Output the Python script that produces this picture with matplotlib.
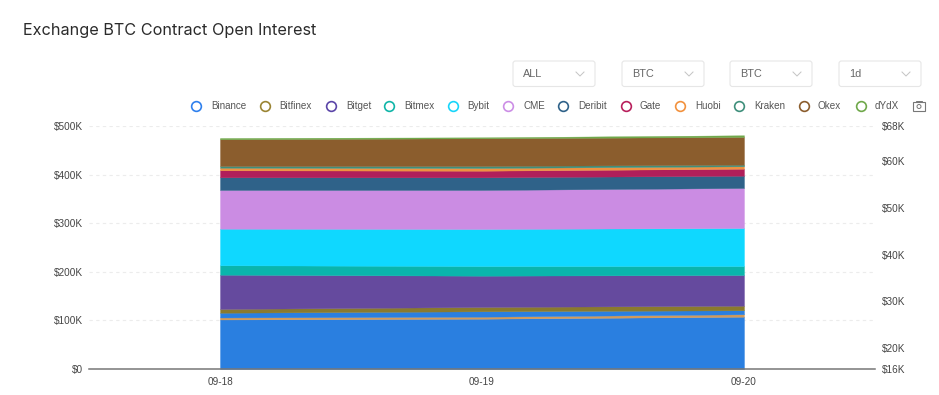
import matplotlib
matplotlib.use('Agg')
import matplotlib.pyplot as plt
from matplotlib.patches import FancyBboxPatch, Rectangle, Circle

days = ['09-18', '09-19', '09-20']

# open interest per exchange, $K
binance = [101.9, 103.5, 107.6]
seam = [4.1, 4.1, 5.0]
binance_top = [9.8, 11.1, 8.2]
bitfinex = [7.7, 8.9, 9.4]
bitget = [70.5, 64.4, 63.2]
bitmex = [19.4, 19.9, 18.5]
bybit = [75.3, 76.2, 78.2]
cme = [79.6, 80.2, 82.3]
deribit = [26.2, 26.1, 25.3]
gate = [14.3, 13.6, 14.4]
huobi = [5.4, 5.6, 5.0]
kraken = [3.5, 4.1, 3.3]
okex = [54.9, 57.0, 57.0]
dydx = [2.7, 2.0, 3.5]

layers = [binance, seam, binance_top, bitfinex, bitget, bitmex, bybit, cme,
          deribit, gate, huobi, kraken, okex, dydx]
layer_colors = ['#2a7fe0', '#d09a5c', '#2a7fe0', '#8a7a2e', '#654a9e', '#0ab5ac',
                '#0fd8ff', '#cb8ce3', '#2f6289', '#b01f5a', '#ee9140', '#3f8f7b',
                '#8b5d2d', '#6fa84a']

left_ticks = [0, 100, 200, 300, 400, 500]
left_labels = ['$0', '$100K', '$200K', '$300K', '$400K', '$500K']
right_ticks = [16, 20.5, 30.5, 40.5, 50.5, 60.5, 68]
right_labels = ['$16K', '$20K', '$30K', '$40K', '$50K', '$60K', '$68K']

legend_names = ['Binance', 'Bitfinex', 'Bitget', 'Bitmex', 'Bybit', 'CME',
                'Deribit', 'Gate', 'Huobi', 'Kraken', 'Okex', 'dYdX']
legend_colors = ['#2f80ed', '#9a8433', '#5b45a8', '#10b5a8', '#18d5fa', '#cc8ee6',
                 '#2f6289', '#b81f5c', '#f2913d', '#3f8f7b', '#8b5d2d', '#6fa84a']
legend_marks = [196, 265, 331, 389, 453, 508, 563, 626, 680, 739, 803.5, 861]
legend_texts = [211, 279, 346, 404, 467.5, 523, 578, 640, 695, 754, 818, 875]

selects = ['ALL', 'BTC', 'BTC', '1d']
select_left = [513, 622, 730, 839]

plt.rcParams['font.family'] = ['Liberation Sans', 'DejaVu Sans']

W, H = 939, 395
fig = plt.figure(figsize=(W / 100, H / 100), dpi=100)
ax = fig.add_axes([89 / W, 1 - 369 / H, (875 - 89) / W, (369 - 126) / H])

x = range(len(days))
polys = ax.stackplot(x, layers, colors=layer_colors, zorder=3)
for p, c in zip(polys, layer_colors):
    p.set_edgecolor(c)
    p.set_linewidth(0.25)
ax.set_xlim(-0.5, 2.5)
ax.set_ylim(0, 500)
ax.set_xticks(list(x), days)
ax.set_yticks(left_ticks, left_labels)
ax.tick_params(axis='both', length=0, labelsize=7.2, labelcolor='#444444')
ax.tick_params(axis='x', pad=6)
ax.tick_params(axis='y', pad=4)
ax.grid(axis='y', color='#ececec', linestyle=(0, (3, 3)), linewidth=0.8, zorder=0)
for s in ['top', 'left', 'right']:
    ax.spines[s].set_visible(False)
ax.spines['bottom'].set_color('#777777')
ax.spines['bottom'].set_linewidth(1.1)
ax.spines['bottom'].set_zorder(4)

ax2 = ax.twinx()
ax2.set_ylim(16, 68)
ax2.set_yticks(right_ticks, right_labels)
ax2.tick_params(axis='y', length=0, labelsize=7.2, labelcolor='#444444', pad=5)
for s in ax2.spines.values():
    s.set_visible(False)

# page furniture above the plot, in pixel coordinates
top = fig.add_axes([0, 0, 1, 1], zorder=5)
top.set_xlim(0, W)
top.set_ylim(H, 0)
top.axis('off')

top.text(23, 30.5, 'Exchange BTC Contract Open Interest', fontsize=11.7, color='#2b2b2b',
         family=['Inter', 'DejaVu Sans'], va='center')

for name, left in zip(selects, select_left):
    top.add_patch(FancyBboxPatch((left, 61), 82, 25.5, boxstyle='round,pad=0,rounding_size=2.5',
                                 fc='white', ec='#e6e6e6', lw=0.8))
    top.text(left + 10, 74, name, fontsize=7.8, color='#666666', va='center')
    cx = left + 67
    top.plot([cx - 4, cx, cx + 4], [72, 76, 72], color='#c4c4c4', lw=0.7)

for name, color, mx, tx in zip(legend_names, legend_colors, legend_marks, legend_texts):
    top.plot(mx, 106, 'o', ms=7, mfc='white', mec=color, mew=1.2)
    top.text(tx, 106, name, fontsize=7.1, color='#555555', va='center')

# camera icon
top.add_patch(Rectangle((913, 102), 12, 9, fc='none', ec='#777777', lw=0.8))
top.add_patch(Rectangle((916, 100.5), 6, 1.5, fc='none', ec='#777777', lw=0.7))
top.add_patch(Circle((919, 106.5), 2, fc='none', ec='#777777', lw=0.7))

plt.savefig('out.png', dpi=100)
